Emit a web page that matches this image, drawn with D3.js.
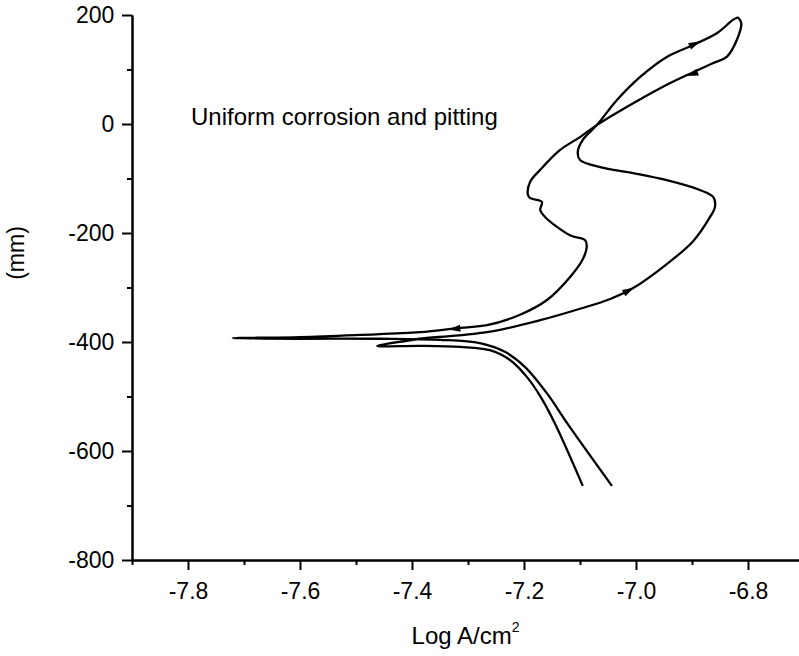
<!DOCTYPE html>
<html>
<head>
<meta charset="utf-8">
<script src="https://cdn.jsdelivr.net/npm/d3@7"></script>
<style>
  body { margin: 0; background: #fff; }
  text { font-family: Arial, "Liberation Sans", sans-serif; }
</style>
</head>
<body>
<div id="chart"></div>
<script>
// tick labels
var xTicks = [-7.8, -7.6, -7.4, -7.2, -7.0, -6.8];
var xMinor = [-7.9, -7.7, -7.5, -7.3, -7.1, -6.9, -6.7];
var yTicks = [200, 0, -200, -400, -600, -800];
var yMinor = [100, -100, -300, -500, -700];

// forward scan: cathodic end -> Ecorr dip -> anodic loop up to the vertex
var forwardScan = [
  [-7.095, -664], [-7.145, -549], [-7.170, -501], [-7.195, -464], [-7.225, -433],
  [-7.261, -415], [-7.314, -409], [-7.386, -407], [-7.462, -407], [-7.398, -396],
  [-7.386, -394], [-7.266, -382], [-7.171, -360], [-7.100, -339], [-7.046, -321],
  [-7.005, -301], [-6.945, -257], [-6.898, -215], [-6.868, -171], [-6.859, -152],
  [-6.862, -134], [-6.886, -121], [-6.945, -103], [-7.005, -90], [-7.064, -79],
  [-7.100, -66], [-7.104, -51], [-7.095, -29], [-7.070, -2], [-7.034, 44],
  [-6.993, 86], [-6.945, 123], [-6.898, 145], [-6.855, 167], [-6.827, 191],
  [-6.818, 196]
];

// reverse scan: vertex -> back down -> second dip -> cathodic end
var reverseScan = [
  [-6.818, 196], [-6.812, 185], [-6.820, 154], [-6.838, 123], [-6.862, 112],
  [-6.898, 95], [-6.945, 72], [-7.005, 38], [-7.070, -2], [-7.100, -24],
  [-7.136, -48], [-7.171, -84], [-7.189, -106], [-7.193, -130], [-7.189, -136],
  [-7.168, -143], [-7.171, -158], [-7.162, -171], [-7.118, -204], [-7.091, -213],
  [-7.088, -226], [-7.096, -250], [-7.118, -281], [-7.159, -323], [-7.207, -350],
  [-7.266, -369], [-7.314, -374], [-7.386, -382], [-7.493, -387], [-7.600, -391],
  [-7.720, -393], [-7.600, -394], [-7.457, -394], [-7.350, -396], [-7.279, -402],
  [-7.234, -418], [-7.198, -446], [-7.157, -497], [-7.123, -549], [-7.043, -664]
];

// direction arrows: [fromX, fromY, toX, toY]
var arrows = [
  [-7.040, -320, -7.003, -300],
  [-6.925, 132, -6.885, 152],
  [-6.870, 102, -6.910, 88],
  [-7.290, -372, -7.335, -377]
];

var label = "Uniform corrosion and pitting";

var margin = {top: 15, right: 0, bottom: 96, left: 132},
    width = 799 - margin.left - margin.right,
    height = 656 - margin.top - margin.bottom;

var svg = d3.select("#chart")
  .append("svg")
    .attr("width", width + margin.left + margin.right)
    .attr("height", height + margin.top + margin.bottom)
  .append("g")
    .attr("transform", "translate(" + margin.left + "," + margin.top + ")");

var x = d3.scaleLinear()
  .domain([-7.9, -7.9 + width / 560])
  .range([0, width]);

var y = d3.scaleLinear()
  .domain([-800, 200])
  .range([height, 0]);

// axes
var xAxis = svg.append("g")
  .attr("transform", `translate(0, ${height})`)
  .call(d3.axisBottom(x).tickValues(xTicks).tickSize(10).tickSizeOuter(0)
    .tickFormat(function(d) { return d.toFixed(1) }));
svg.append("g")
  .attr("transform", `translate(0, ${height})`)
  .call(d3.axisBottom(x).tickValues(xMinor).tickSize(5).tickSizeOuter(0).tickFormat(""));

var yAxis = svg.append("g")
  .call(d3.axisLeft(y).tickValues(yTicks).tickSize(10).tickSizeOuter(0)
    .tickFormat(function(d) { return d }));
svg.append("g")
  .call(d3.axisLeft(y).tickValues(yMinor).tickSize(5).tickSizeOuter(0).tickFormat(""));

svg.selectAll(".domain, .tick line")
  .attr("stroke", "#000")
  .attr("stroke-width", 2);
svg.selectAll(".tick text")
  .attr("font-size", 23)
  .attr("fill", "#000");
xAxis.selectAll(".tick text").attr("dy", "1.15em");
yAxis.selectAll(".tick text").attr("dx", "-0.2em");

// curves
var lineFunc = d3.line()
  .x(function(d) { return x(d[0]) })
  .y(function(d) { return y(d[1]) })
  .curve(d3.curveCatmullRom.alpha(0.5));

[forwardScan, reverseScan].forEach(function(scan) {
  svg.append("path")
    .attr("fill", "none")
    .attr("stroke", "#000")
    .attr("stroke-width", 2.3)
    .attr("stroke-linejoin", "round")
    .attr("d", lineFunc(scan));
});

// arrow heads
svg.selectAll(".arrow")
  .data(arrows)
  .enter().append("path")
    .attr("class", "arrow")
    .attr("fill", "#000")
    .attr("d", function(d) {
      var x1 = x(d[0]), y1 = y(d[1]), x2 = x(d[2]), y2 = y(d[3]);
      var len = Math.hypot(x2 - x1, y2 - y1), ux = (x2 - x1) / len, uy = (y2 - y1) / len;
      var bx = x2 - ux * 12, by = y2 - uy * 12;
      return "M" + x2 + "," + y2 +
        "L" + (bx - uy * 3.5) + "," + (by + ux * 3.5) +
        "L" + (bx + uy * 3.5) + "," + (by - ux * 3.5) + "Z";
    });

// labels
svg.append("text")
  .attr("x", 59)
  .attr("y", y(0) + 1)
  .attr("font-size", 24)
  .text(label);

svg.append("text")
  .attr("text-anchor", "middle")
  .attr("x", width / 2)
  .attr("y", height + 84)
  .attr("font-size", 24)
  .text("Log A/cm")
  .append("tspan")
    .attr("font-size", 14)
    .attr("dy", -12)
    .text("2");

svg.append("text")
  .attr("text-anchor", "middle")
  .attr("transform", "translate(" + (-108) + "," + 238 + ") rotate(-90)")
  .attr("font-size", 23)
  .text("(mm)");
</script>
</body>
</html>
